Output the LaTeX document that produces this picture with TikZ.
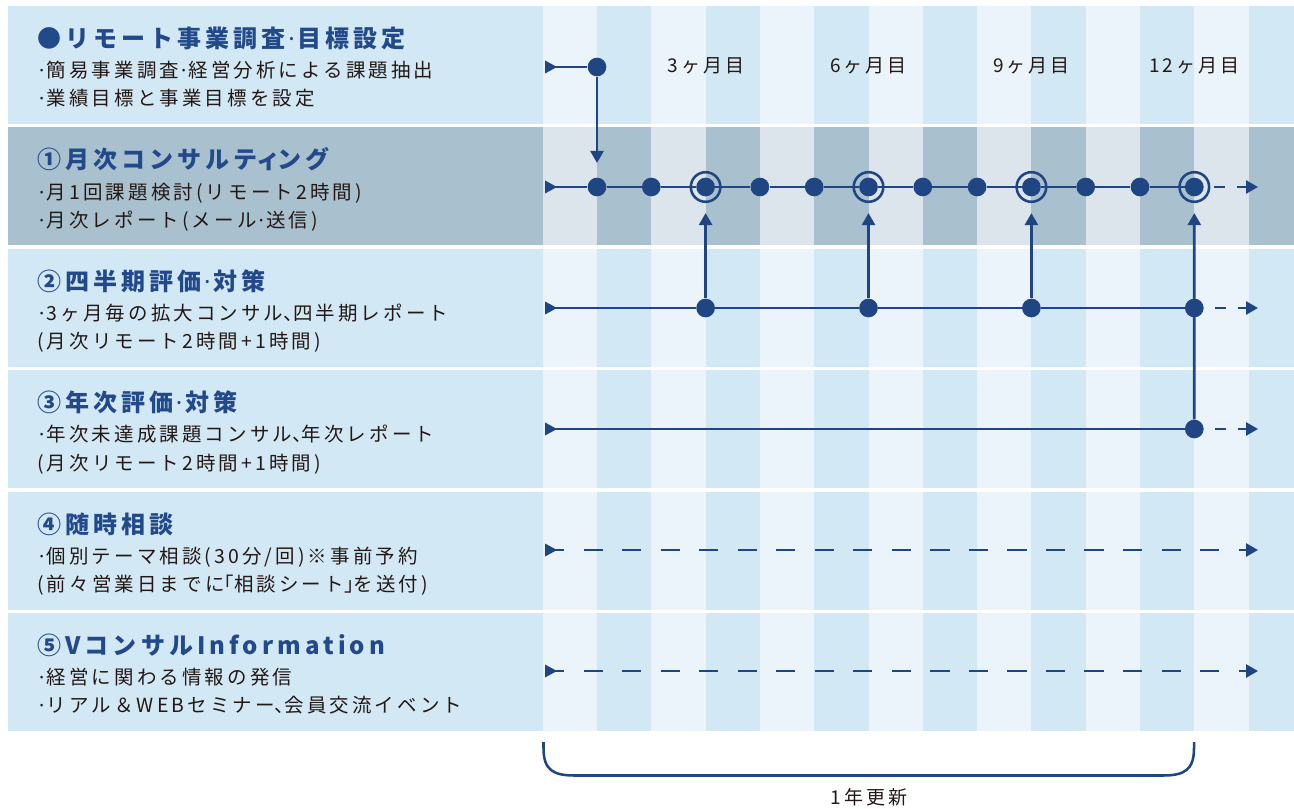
\documentclass[tikz,border=0pt]{standalone}
\usepackage{fontspec}
\usetikzlibrary{arrows.meta}
\setmainfont{Noto Sans CJK JP}
\newfontfamily\jpfont{Noto Sans CJK JP}[LetterSpace=16]
\newfontfamily\latinfont{Noto Sans}[LetterSpace=16]
\newcommand\md{{\kern0.1em\latinfont ·\kern0.12em}}
\newcommand\hw[1]{{\addfontfeature{RawFeature=+halt}#1}}
\newcommand\pw[1]{{\addfontfeature{RawFeature=+palt}#1}}
\definecolor{navy}{HTML}{1F4582}
\definecolor{titleblue}{HTML}{22498A}
\definecolor{panel}{HTML}{D3E8F5}
\definecolor{stripe}{HTML}{EBF4FB}
\definecolor{panelB}{HTML}{A9C1CF}
\definecolor{stripeB}{HTML}{DCE5EB}
\definecolor{txt}{HTML}{231815}
\pgfdeclarelayer{bg}
\pgfdeclarelayer{lines}
\pgfsetlayers{bg,lines,main}
\tikzset{
  ttl/.style={anchor=base west, inner sep=0pt, text=titleblue, font=\jpfont\bfseries\fontsize{18pt}{20pt}\selectfont\addfontfeature{LetterSpace=17}},
  body/.style={anchor=base west, inner sep=0pt, text=txt, font=\jpfont\fontsize{14.6pt}{16pt}\selectfont},
  month/.style={anchor=base, inner sep=0pt, text=txt, font=\jpfont\fontsize{14.25pt}{16pt}\selectfont},
  dot/.style={circle, fill=navy, inner sep=0pt, minimum size=14pt},
  ring/.style={circle, draw=navy, line width=1.9pt, inner sep=0pt, minimum size=22.2pt},
  conn/.style={draw=navy, line width=2pt},
  tip/.style={-{Triangle[length=9pt,width=9.75pt]}},
  shortdash/.style={dash pattern=on 8.25pt off 9pt},
  longdash/.style={dash pattern=on 14.4pt off 14.5pt},
}
\newcommand\startmark[1]{\fill[navy] (#1) ++(0,6.5) -- ++(12,-6.5) -- ++(-12,-6.5) -- cycle;}
\begin{document}
\begin{tikzpicture}[x=0.75pt,y=-0.75pt]
\useasboundingbox (0,0) rectangle (1294,809);
% backgrounds
\begin{pgfonlayer}{bg}
\foreach \i/\dk/\lt in {0/panel/stripe,1/panelB/stripeB,2/panel/stripe,3/panel/stripe,4/panel/stripe,5/panel/stripe}{
  \pgfmathsetmacro\tp{6+121.4*\i}
  \fill[\dk] (8,\tp) rectangle (1294,\tp+118);
  \foreach \k in {0,2,...,12}{
    \fill[\lt] ({542.7+54.3*\k},\tp) rectangle ({542.7+54.3*(\k+1)},\tp+118);
  }
}
\end{pgfonlayer}
% left texts
\node[ttl]  (t0)  at (37,47.4) {●リモート事業調査\md 目標設定};
\node[body] (t0a) at (37,77.7) {\md 簡易事業調査\md 経営分析による課題抽出};
\node[body] (t0b) at (37,105.9) {\md 業績目標と事業目標を設定};
\node[ttl]  (t1)  at (37,168.8) {①月次コンサルテ\pw{ィ}ング};
\node[body] (t1a) at (37,199.1) {\md 月1回課題検討(リモート2時間)};
\node[body] (t1b) at (37,227.3) {\md 月次レポート(メール\md 送信)};
\node[ttl]  (t2)  at (37,290.2) {②四半期評価\md 対策};
\node[body] (t2a) at (37,320.5) {\md 3ヶ月毎の拡大コンサル\hw{、}四半期レポート};
\node[body] (t2b) at (37,348.7) {(月次リモート2時間+1時間)};
\node[ttl]  (t3)  at (37,411.6) {③年次評価\md 対策};
\node[body] (t3a) at (37,441.9) {\md 年次未達成課題コンサル\hw{、}年次レポート};
\node[body] (t3b) at (37,470.1) {(月次リモート2時間+1時間)};
\node[ttl]  (t4)  at (37,533.0) {④随時相談};
\node[body] (t4a) at (37,563.3) {\md 個別テーマ相談(30分/回)※事前予約};
\node[body] (t4b) at (37,591.5) {(前々営業日までに\hw{「}相談シート\hw{」}を送付)};
\node[ttl]  (t5)  at (37,654.4) {⑤VコンサルInformation};
\node[body] (t5a) at (37,684.7) {\md 経営に関わる情報の発信};
\node[body] (t5b) at (37,712.9) {\md リアル＆WEBセミナー\hw{、}会員交流イベント};
% month labels
\node[month] (l3)  at (706,72.7)  {3ヶ月目};
\node[month] (l6)  at (868.5,72.7) {6ヶ月目};
\node[month] (l9)  at (1031.4,72.7) {9ヶ月目};
\node[month] (l12) at (1194.3,72.7) {12ヶ月目};
% nodes
\coordinate (s0) at (545,67);
\coordinate (s1) at (545,187);
\coordinate (s2) at (545,308);
\coordinate (s3) at (545,429);
\coordinate (s4) at (545,550);
\coordinate (s5) at (545,671);
\coordinate (e1) at (1258,187);
\coordinate (e2) at (1258,308);
\coordinate (e3) at (1258,429);
\coordinate (e4) at (1258,550);
\coordinate (e5) at (1258,671);
\node[dot] (z1) at (597,67) {};
\foreach \k in {1,...,12}{\node[dot] (a\k) at ({542.7+54.3*\k},187) {};}
\foreach \k in {3,6,9,12}{\node[ring] (r\k) at (a\k) {};}
\foreach \k in {3,6,9,12}{\node[dot] (b\k) at ({542.7+54.3*\k},308) {};}
\node[dot] (c12) at (1194.3,429) {};
% start marks
\foreach \s in {s0,s1,s2,s3,s4,s5}{\startmark{\s}}
% connectors
\begin{pgfonlayer}{lines}
\draw[conn] (s0) -- (z1);
\draw[conn, tip, shorten >=10.8pt] (z1) -- (a1);
\draw[conn] (s1) -- (a1) -- (a2) -- (a3) -- (a4) -- (a5) -- (a6) -- (a7) -- (a8) -- (a9) -- (a10) -- (a11) -- (a12);
\draw[conn, tip, shortdash, shorten <=3pt] (r12) -- (e1);
\draw[conn] (s2) -- (b3) -- (b6) -- (b9) -- (b12);
\draw[conn, tip, shortdash, shorten <=8.5pt] (b12) -- (e2);
\draw[conn] (s3) -- (c12);
\draw[conn, tip, shortdash, shorten <=8.5pt] (c12) -- (e3);
\draw[conn, tip, shorten >=7.5pt] (b3) -- (r3);
\draw[conn, tip, shorten >=7.5pt] (b6) -- (r6);
\draw[conn, tip, shorten >=7.5pt] (b9) -- (r9);
\draw[conn, tip, shorten >=7.5pt] (c12) -- (r12);
\draw[conn, tip, longdash] (s4) -- (e4);
\draw[conn, tip, longdash] (s5) -- (e5);
\end{pgfonlayer}
% brace
\draw[navy, line width=1.9pt] (543.5,742) -- (543.5,748) .. controls (543.5,770) and (553,775.5) .. (575,775.5) -- (1162.5,775.5) .. controls (1184.5,775.5) and (1194,770) .. (1194,748) -- (1194,742);
\node[month] (yr) at (869,804.5) {1年更新};
\end{tikzpicture}
\end{document}
